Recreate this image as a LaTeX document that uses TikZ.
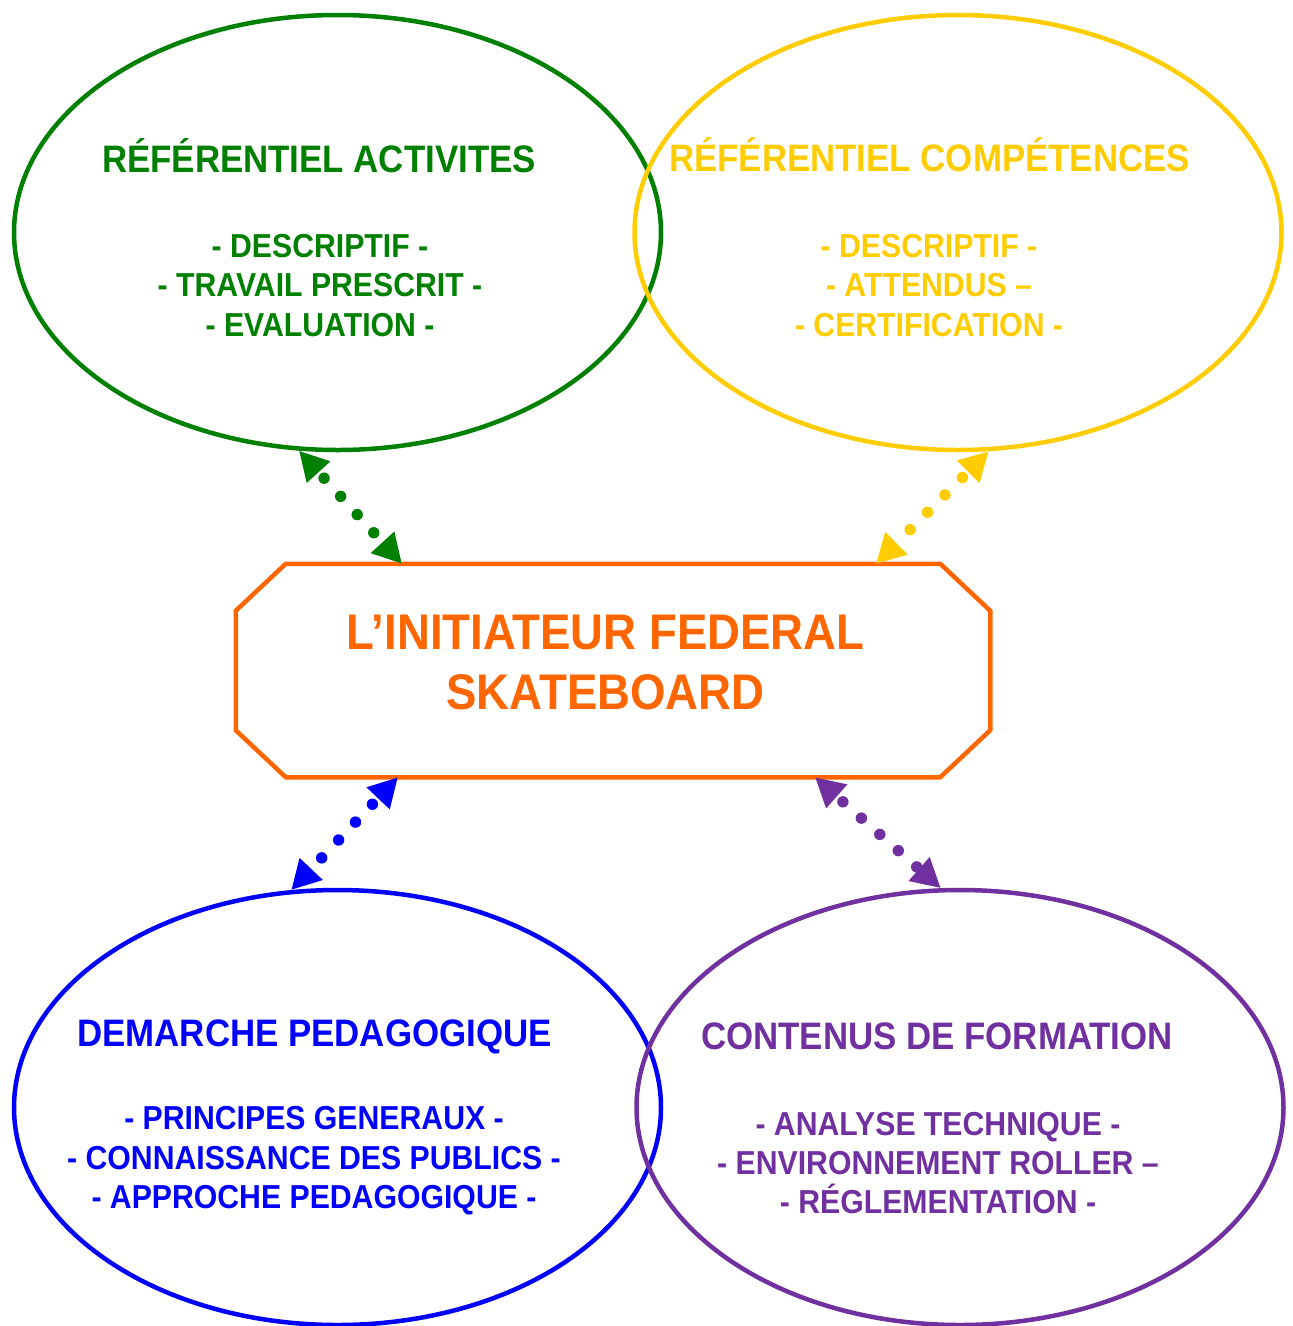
\documentclass[tikz,border=0pt]{standalone}
\usepackage{fontspec}
\setmainfont{Liberation Sans}[FakeStretch=0.91]
\usepackage{tikz}
\usetikzlibrary{calc,shapes.geometric}
\usetikzlibrary{arrows.meta}
\definecolor{actcolor}{RGB}{0,128,0}
\definecolor{compcolor}{RGB}{255,204,0}
\definecolor{pedacolor}{RGB}{0,0,255}
\definecolor{formcolor}{RGB}{112,48,160}
\definecolor{initcolor}{RGB}{255,102,0}
\newcommand{\px}{0.02cm}
\newcommand{\ringwidth}{4.5*\px}
\newcommand{\tipsize}{length=16.5pt,width=17pt}

\begin{document}
\begin{tikzpicture}[x=0.02cm,y=-0.02cm,
  ring/.style={ellipse,draw,line width=\ringwidth,minimum width=647*\px,minimum height=435*\px,inner sep=0pt},
  headtxt/.style={font=\fontsize{21.8}{25}\selectfont\bfseries,anchor=base},
  bodytxt/.style={font=\fontsize{18.9}{22.4}\selectfont\bfseries,align=center},
  link/.style={line width=6.5pt,line cap=round,dash pattern=on 0pt off 14pt,dash phase=8.3pt,{Triangle[\tipsize]}-{Triangle[\tipsize]}}]
\useasboundingbox (0,0) rectangle (1293,1326);
%rings
\node[ring,actcolor] (act) at (337.5,232.5) {};
\node[ring,compcolor] (comp) at (958,232.5) {};
\node[ring,pedacolor] (peda) at (337.5,1107.5) {};
\node[ring,formcolor] (form) at (960,1107.5) {};
%centre
\node[line width=\ringwidth,minimum width=750*\px,minimum height=209*\px,inner sep=0pt] (init) at (613,670.5) {};
\draw[initcolor,line width=\ringwidth] ([xshift=50*\px]init.north west) -- ([xshift=-50*\px]init.north east)
  -- ([yshift=-47*\px]init.north east) -- ([yshift=47*\px]init.south east)
  -- ([xshift=-50*\px]init.south east) -- ([xshift=50*\px]init.south west)
  -- ([yshift=47*\px]init.south west) -- ([yshift=-47*\px]init.north west) -- cycle;
\node[initcolor,font=\fontsize{28.5}{33.6}\selectfont\bfseries,align=center] (inittxt) at (605.5,662.5) {L’INITIATEUR FEDERAL\\SKATEBOARD};
%texts
\node[headtxt,actcolor] (acttitle) at (319,172) {RÉFÉRENTIEL ACTIVITES};
\node[bodytxt,actcolor] (actbody) at (320,285.5) {- DESCRIPTIF -\\- TRAVAIL PRESCRIT -\\- EVALUATION -};
\node[headtxt,compcolor] (comptitle) at (929.5,171) {RÉFÉRENTIEL COMPÉTENCES};
\node[bodytxt,compcolor] (compbody) at (929,285.5) {- DESCRIPTIF -\\- ATTENDUS –\\- CERTIFICATION -};
\node[headtxt,pedacolor] (pedatitle) at (314.5,1046) {DEMARCHE PEDAGOGIQUE};
\node[bodytxt,pedacolor] (pedabody) at (314,1161) {- PRINCIPES GENERAUX -\\- CONNAISSANCE DES PUBLICS -\\- APPROCHE PEDAGOGIQUE -};
\node[headtxt,formcolor] (formtitle) at (937,1049) {CONTENUS DE FORMATION};
\node[bodytxt,formcolor] (formbody) at (938,1163) {- ANALYSE TECHNIQUE -\\- ENVIRONNEMENT ROLLER –\\- RÉGLEMENTATION -};
%links
\draw[link,actcolor] (act.-100) -- ([xshift=-211*\px]init.north);
\draw[link,compcolor] (comp.-82.3) -- ([xshift=263*\px]init.north);
\draw[link,pedacolor] ([xshift=-215*\px]init.south) -- (peda.102);
\draw[link,formcolor] ([xshift=202*\px]init.south) -- (form.95);
\end{tikzpicture}
\end{document}
